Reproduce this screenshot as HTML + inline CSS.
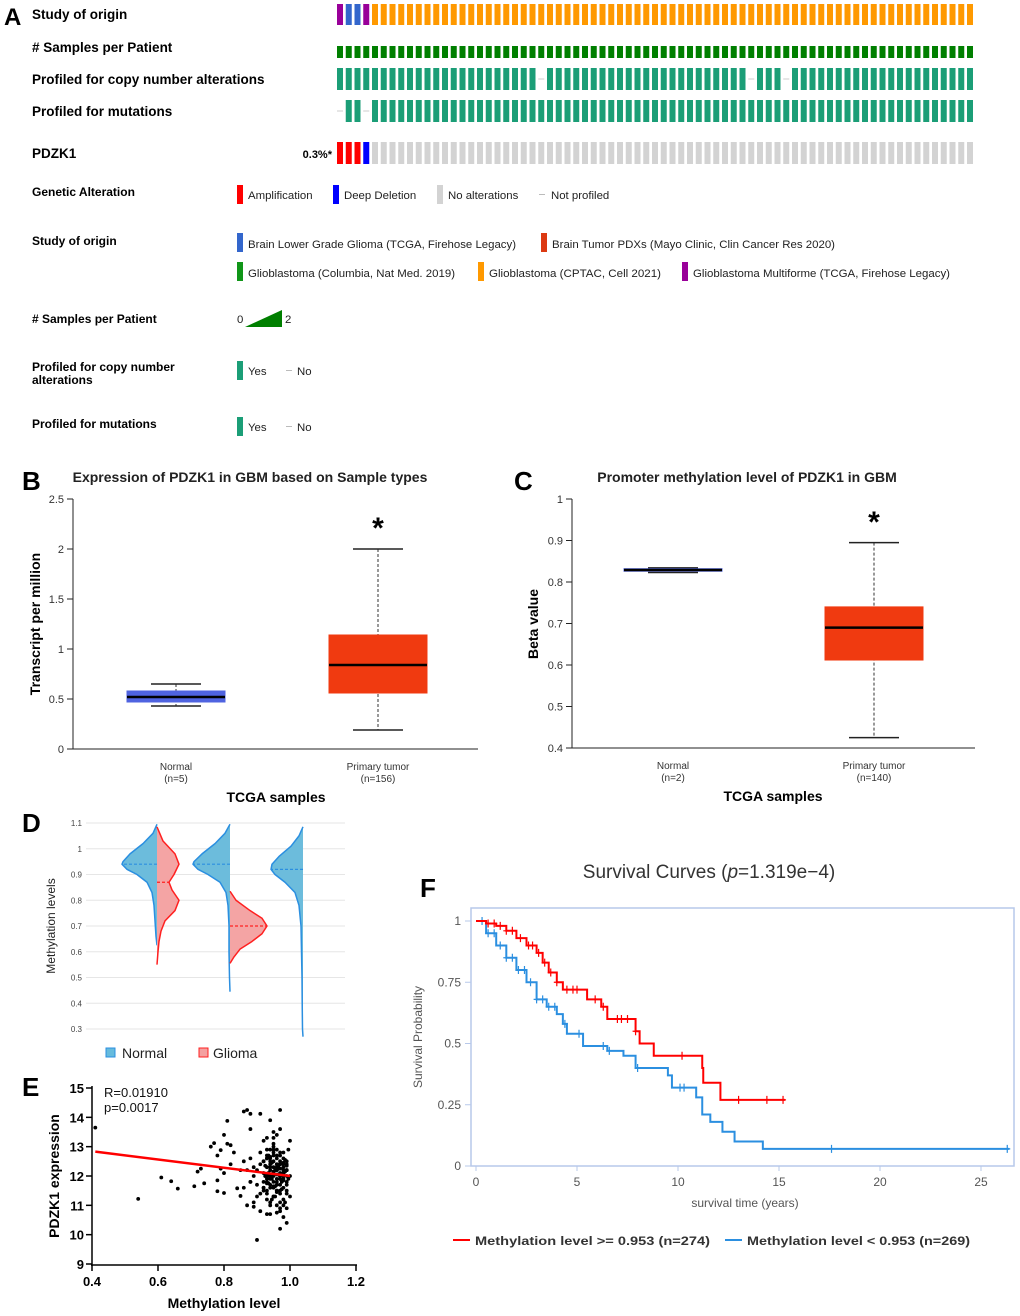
<!DOCTYPE html>
<html><head><meta charset="utf-8"><style>
html,body{margin:0;padding:0;background:#fff}
svg{display:block;font-family:"Liberation Sans",Arial,sans-serif}
</style></head><body>
<svg id="fig" width="1020" height="1316" viewBox="0 0 1020 1316" xmlns="http://www.w3.org/2000/svg">
<g font-weight="bold" font-size="13.5" fill="#000">
<text x="4" y="25" font-size="24">A</text>
<text x="32" y="19">Study of origin</text>
<text x="32" y="52"># Samples per Patient</text>
<text x="32" y="84">Profiled for copy number alterations</text>
<text x="32" y="116">Profiled for mutations</text>
<text x="32" y="158">PDZK1</text>
<text x="332" y="158" font-size="11" text-anchor="end">0.3%*</text>
</g>
<g id="oncoprint"></g>
<g font-size="11.4" fill="#222">
<g font-weight="bold" fill="#000" font-size="12">
<text x="32" y="196">Genetic Alteration</text>
<text x="32" y="245">Study of origin</text>
<text x="32" y="323"># Samples per Patient</text>
<text x="32" y="371">Profiled for copy number</text>
<text x="32" y="384">alterations</text>
<text x="32" y="428">Profiled for mutations</text>
</g>
<rect x="237" y="185" width="6" height="19" fill="#ff0000"/><text x="248" y="199">Amplification</text>
<rect x="333" y="185" width="6" height="19" fill="#0000ff"/><text x="344" y="199">Deep Deletion</text>
<rect x="437" y="185" width="6" height="19" fill="#d3d3d3"/><text x="448" y="199">No alterations</text>
<rect x="539" y="194" width="6" height="1" fill="#bbb"/><text x="551" y="199">Not profiled</text>
<rect x="237" y="233" width="6" height="19" fill="#3366cc"/><text x="248" y="248" textLength="268" lengthAdjust="spacingAndGlyphs">Brain Lower Grade Glioma (TCGA, Firehose Legacy)</text>
<rect x="541" y="233" width="6" height="19" fill="#dc3912"/><text x="552" y="248" textLength="283" lengthAdjust="spacingAndGlyphs">Brain Tumor PDXs (Mayo Clinic, Clin Cancer Res 2020)</text>
<rect x="237" y="262" width="6" height="19" fill="#109618"/><text x="248" y="277" textLength="207" lengthAdjust="spacingAndGlyphs">Glioblastoma (Columbia, Nat Med. 2019)</text>
<rect x="478" y="262" width="6" height="19" fill="#ff9900"/><text x="489" y="277" textLength="172" lengthAdjust="spacingAndGlyphs">Glioblastoma (CPTAC, Cell 2021)</text>
<rect x="682" y="262" width="6" height="19" fill="#990099"/><text x="693" y="277" textLength="257" lengthAdjust="spacingAndGlyphs">Glioblastoma Multiforme (TCGA, Firehose Legacy)</text>
<text x="237" y="323">0</text>
<polygon points="245,327 282,327 282,310" fill="#007f00"/>
<text x="285" y="323">2</text>
<rect x="237" y="361" width="6" height="19" fill="#1b9e77"/><text x="248" y="375">Yes</text>
<rect x="286" y="370" width="6" height="1" fill="#bbb"/><text x="297" y="375">No</text>
<rect x="237" y="417" width="6" height="19" fill="#1b9e77"/><text x="248" y="431">Yes</text>
<rect x="286" y="426" width="6" height="1" fill="#bbb"/><text x="297" y="431">No</text>
</g>
<g id="panelB">
<text x="22" y="490" font-size="26" font-weight="bold">B</text>
<text x="250" y="482" font-size="14" font-weight="bold" text-anchor="middle" fill="#222">Expression of PDZK1 in GBM based on Sample types</text>
<text transform="translate(40,624) rotate(-90)" font-size="14" font-weight="bold" text-anchor="middle">Transcript per million</text>
<text x="276" y="802" font-size="14" font-weight="bold" text-anchor="middle">TCGA samples</text>
</g>
<g id="panelC">
<text x="514" y="490" font-size="26" font-weight="bold">C</text>
<text x="747" y="482" font-size="14" font-weight="bold" text-anchor="middle" fill="#222">Promoter methylation level of PDZK1 in GBM</text>
<text transform="translate(538,624) rotate(-90)" font-size="14" font-weight="bold" text-anchor="middle">Beta value</text>
<text x="773" y="801" font-size="14" font-weight="bold" text-anchor="middle">TCGA samples</text>
</g>
<g id="panelD">
<text x="22" y="832" font-size="26" font-weight="bold">D</text>
<text transform="translate(55,926) rotate(-90)" font-size="12" text-anchor="middle" fill="#222">Methylation levels</text>
<rect x="106" y="1048" width="9" height="9" fill="#66bbdd" stroke="#2b8fe0"/>
<text x="122" y="1058" font-size="14" fill="#222">Normal</text>
<rect x="199" y="1048" width="9" height="9" fill="#f4a0a0" stroke="#ff2020"/>
<text x="213" y="1058" font-size="14" fill="#222">Glioma</text>
</g>
<g id="panelE">
<text x="22" y="1096" font-size="26" font-weight="bold">E</text>
<text x="104" y="1097" font-size="13" fill="#111">R=0.01910</text>
<text x="104" y="1112" font-size="13" fill="#111">p=0.0017</text>
<text transform="translate(59,1176) rotate(-90)" font-size="14" font-weight="bold" text-anchor="middle">PDZK1 expression</text>
<text x="224" y="1308" font-size="14" font-weight="bold" text-anchor="middle">Methylation level</text>
</g>
<g id="panelF">
<text x="420" y="897" font-size="26" font-weight="bold">F</text>
<text x="709" y="878" font-size="19" text-anchor="middle" fill="#333">Survival Curves (<tspan font-style="italic">p</tspan>=1.319e−4)</text>
<text transform="translate(422,1037) rotate(-90)" font-size="12" text-anchor="middle" fill="#555">Survival Probability</text>
<text x="745" y="1207" font-size="12" text-anchor="middle" fill="#555">survival time (years)</text>
<line x1="453" y1="1240" x2="470" y2="1240" stroke="#ff0000" stroke-width="2"/>
<text x="475" y="1245" font-size="12" font-weight="bold" fill="#333" textLength="235" lengthAdjust="spacingAndGlyphs">Methylation level &gt;= 0.953 (n=274)</text>
<line x1="725" y1="1240" x2="742" y2="1240" stroke="#2b8fe0" stroke-width="2"/>
<text x="747" y="1245" font-size="12" font-weight="bold" fill="#333" textLength="223" lengthAdjust="spacingAndGlyphs">Methylation level &lt; 0.953 (n=269)</text>
</g>
</svg>
<script>
const NS="http://www.w3.org/2000/svg";
function mk(tag,attrs,parent){const e=document.createElementNS(NS,tag);for(const k in attrs)e.setAttribute(k,attrs[k]);parent.appendChild(e);return e;}
const nSamples=73;
const studyCodes=["gbm","lgg","lgg","gbm"];
const cnaNotProfiled=[23,47,51];
const mutNotProfiled=[0,3];
const pdzk1Alts=["amp","amp","amp","del"];
const studyColors={gbm:"#990099",lgg:"#3366cc",cptac:"#ff9900"};
const onc=document.getElementById("oncoprint");
for(let i=0;i<nSamples;i++){
  const x=337+i*8.75;
  let r=mk("rect",{x:x,y:4,width:6,height:21,fill:studyColors[studyCodes[i]||"cptac"]},onc);
  
  
  r=mk("rect",{x:x,y:46,width:6,height:12,fill:"#007f00"},onc);
  
  
  if(cnaNotProfiled.indexOf(i)<0){r=mk("rect",{x:x,y:68,width:6,height:22,fill:"#1b9e77"},onc);}
  else{r=mk("rect",{x:x,y:78.5,width:6,height:1,fill:"#ccc"},onc);}
  
  
  if(mutNotProfiled.indexOf(i)<0){r=mk("rect",{x:x,y:100,width:6,height:22,fill:"#1b9e77"},onc);}
  else{r=mk("rect",{x:x,y:110.5,width:6,height:1,fill:"#ccc"},onc);}
  
  
  const a=pdzk1Alts[i];
  r=mk("rect",{x:x,y:142,width:6,height:22,fill:a==="amp"?"#ff0000":a==="del"?"#0000ff":"#d3d3d3"},onc);
  
  
}
const bCategories=["Normal","Primary tumor"];
const bCounts=["(n=5)","(n=156)"];
const bMin=[0.43,0.19],bQ1=[0.47,0.56],bMed=[0.52,0.84],bQ3=[0.58,1.14],bMax=[0.65,2.0];
const bTicks=[0,0.5,1,1.5,2,2.5];
const bTickLabels=["0","0.5","1","1.5","2","2.5"];
const cCategories=["Normal","Primary tumor"];
const cCounts=["(n=2)","(n=140)"];
const cMin=[0.823,0.425],cQ1=[0.826,0.612],cMed=[0.829,0.69],cQ3=[0.832,0.74],cMax=[0.834,0.895];
const cTicks=[0.4,0.5,0.6,0.7,0.8,0.9,1];
const cTickLabels=["0.4","0.5","0.6","0.7","0.8","0.9","1"];
function boxPlot(g,ax,cats,counts,mn,q1,md,q3,mx,ticks,labels,colors){
  const y=v=>ax.y0-(v-ax.vmin)/(ax.vmax-ax.vmin)*(ax.y0-ax.y1);
  let e=mk("line",{x1:ax.x0,y1:ax.y1,x2:ax.x0,y2:ax.y0,stroke:"#222"},g);
  
  e=mk("line",{x1:ax.x0,y1:ax.y0,x2:ax.x2,y2:ax.y0,stroke:"#222"},g);
  
  ticks.forEach((t,i)=>{
    e=mk("line",{x1:ax.x0-6,y1:y(t),x2:ax.x0,y2:y(t),stroke:"#222"},g);
    
    e=mk("text",{x:ax.x0-9,y:y(t)+4,"font-size":11,"text-anchor":"end",fill:"#333"},g);e.textContent=labels[i];
    
  });
  cats.forEach((c,i)=>{
    const cx=ax.cx[i],w=98,wh=50;
    e=mk("line",{x1:cx,y1:y(mx[i]),x2:cx,y2:y(mn[i]),stroke:"#333","stroke-dasharray":"3,2"},g);
    
    e=mk("line",{x1:cx-wh/2,y1:y(mx[i]),x2:cx+wh/2,y2:y(mx[i]),stroke:"#222","stroke-width":1.5},g);
    
    e=mk("line",{x1:cx-wh/2,y1:y(mn[i]),x2:cx+wh/2,y2:y(mn[i]),stroke:"#222","stroke-width":1.5},g);
    
    e=mk("rect",{x:cx-w/2,y:y(q3[i]),width:w,height:Math.max(1.5,y(q1[i])-y(q3[i])),fill:colors[i],stroke:colors[i]},g);
    
    e=mk("line",{x1:cx-w/2,y1:y(md[i]),x2:cx+w/2,y2:y(md[i]),stroke:"#000","stroke-width":2.5},g);
    
    e=mk("text",{x:cx,y:ax.y0+21,"font-size":10,"text-anchor":"middle",fill:"#333"},g);e.textContent=c;
    
    e=mk("text",{x:cx,y:ax.y0+33,"font-size":10,"text-anchor":"middle",fill:"#333"},g);e.textContent=counts[i];
    
  });
  e=mk("text",{x:ax.cx[1],y:ax.star,"font-size":30,"font-weight":"bold","text-anchor":"middle"},g);e.textContent="*";
  
}
boxPlot(document.getElementById("panelB"),{x0:73,x2:478,y0:749,y1:499,vmin:0,vmax:2.5,cx:[176,378],star:538},
  bCategories,bCounts,bMin,bQ1,bMed,bQ3,bMax,bTicks,bTickLabels,["#4f63e0","#f03a10"]);
boxPlot(document.getElementById("panelC"),{x0:572,x2:975,y0:748,y1:499,vmin:0.4,vmax:1,cx:[673,874],star:532},
  cCategories,cCounts,cMin,cQ1,cMed,cQ3,cMax,cTicks,cTickLabels,["#4f63e0","#f03a10"]);
const dTicks=[0.3,0.4,0.5,0.6,0.7,0.8,0.9,1,1.1];
const dTickLabels=["0.3","0.4","0.5","0.6","0.7","0.8","0.9","1","1.1"];
const normalLevels=[[1.095,1.06,1.02,0.98,0.95,0.94,0.92,0.9,0.87,0.83,0.78,0.72,0.66,0.625],
                    [1.095,1.06,1.02,0.98,0.95,0.94,0.92,0.9,0.87,0.83,0.78,0.7,0.6,0.5,0.445],
                    [1.085,1.05,1.01,0.97,0.94,0.92,0.9,0.87,0.83,0.78,0.7,0.6,0.5,0.4,0.3,0.27]];
const normalWidths=[[0,4,14,27,34,35,30,20,10,5,3,2,1,0],
                    [0,5,15,28,36,37,32,22,10,4,2,1,1,0.5,0],
                    [0,4,12,24,31,32,28,18,8,4,2,1.5,1,0.8,0.5,0]];
const gliomaLevels=[[1.085,1.03,0.98,0.94,0.9,0.87,0.84,0.8,0.76,0.72,0.68,0.64,0.6,0.55],
                    [0.835,0.8,0.76,0.73,0.7,0.67,0.64,0.61,0.58,0.555]];
const gliomaWidths=[[0,6,18,22,17,12,15,22,18,8,4,2,1,0],
                    [0,6,20,32,37,32,22,10,4,0]];
const normalMedians=[0.94,0.94,0.92];
const gliomaMedians=[0.87,0.70];
const violinX=[157,230,303];
(function(){
  const g=document.getElementById("panelD");
  const y=v=>1029-(v-0.3)/0.8*206;
  dTicks.forEach((t,i)=>{
    let e=mk("line",{x1:86,y1:y(t),x2:345,y2:y(t),stroke:"#e6e6e6"},g);
    
    e=mk("text",{x:82,y:y(t)+3,"font-size":8,"text-anchor":"end",fill:"#444"},g);e.textContent=dTickLabels[i];
    
  });
  function half(levels,widths,cx,dir,fill,stroke,med,name){
    let d="M"+cx+","+y(levels[0]);
    levels.forEach((l,i)=>{d+=" L"+(cx+dir*widths[i])+","+y(l);});
    d+=" L"+cx+","+y(levels[levels.length-1])+" Z";
    let e=mk("path",{d:d,fill:fill,stroke:"none"},g);
    
    let o="M"+cx+","+y(levels[0]);levels.forEach((l,i)=>{o+=" L"+(cx+dir*widths[i])+","+y(l);});
    e=mk("path",{d:o,fill:"none",stroke:stroke,"stroke-width":1.5,"stroke-linejoin":"round"},g);
    
    let w=0;for(let i=0;i<levels.length-1;i++){if(med<=levels[i]&&med>=levels[i+1]){const f=(levels[i]-med)/(levels[i]-levels[i+1]);w=widths[i]+f*(widths[i+1]-widths[i]);}}
    e=mk("line",{x1:cx,y1:y(med),x2:cx+dir*w,y2:y(med),stroke:stroke,"stroke-width":1.2,"stroke-dasharray":"3,2"},g);
    
  }
  normalLevels.forEach((lv,i)=>half(lv,normalWidths[i],violinX[i],-1,"#6cbcdc","#2b8fe0",normalMedians[i],"violin-normal"));
  gliomaLevels.forEach((lv,i)=>half(lv,gliomaWidths[i],violinX[i],1,"#f4a4a4","#ff2020",gliomaMedians[i],"violin-glioma"));
})();
const eXTicks=[0.4,0.6,0.8,1.0,1.2];
const eXTickLabels=["0.4","0.6","0.8","1.0","1.2"];
const eYTicks=[9,10,11,12,13,14,15];
const methylation=[0.41,0.54,0.61,0.64,0.66,0.71,0.72,0.73,0.74,0.76,0.77,0.78,0.78,0.78,0.79,0.79,0.8,0.8,0.8,0.81,0.81,0.82,0.82,0.83,0.84,0.85,0.85,0.86,0.86,0.87,0.87,0.88,0.88,0.88,0.88,0.89,0.89,0.89,0.9,0.9,0.91,0.91,0.91,0.92,0.92,0.92,0.93,0.93,0.94,0.94,
0.92,0.92,0.93,0.93,0.93,0.93,0.94,0.94,0.94,0.94,0.94,0.95,0.95,0.95,0.95,0.95,0.95,0.96,0.96,0.96,0.96,0.96,0.96,0.97,0.97,0.97,0.97,0.97,0.97,0.97,0.98,0.98,0.98,0.98,0.98,0.98,0.99,0.99,0.99,0.99,0.99,1.0,1.0,1.0,
0.92,0.93,0.93,0.94,0.94,0.95,0.95,0.95,0.96,0.96,0.96,0.97,0.97,0.97,0.98,0.98,0.98,0.99,0.99,0.99,0.93,0.94,0.95,0.96,0.97,0.98,0.96,0.95,0.97,0.94,
0.92,0.93,0.94,0.95,0.96,0.97,0.98,0.99,0.95,0.96,0.97,0.94,0.93,0.96,0.98,0.97,0.95,0.96,0.97,0.99,0.9,0.91,0.89,0.88,0.87,0.86,0.9,0.92,0.91,0.93,
0.925,0.935,0.945,0.955,0.965,0.975,0.985,0.995,0.925,0.935,0.945,0.955,0.965,0.975,0.985,0.995,0.93,0.94,0.95,0.96,0.97,0.98,0.99,0.93,0.94,0.95,0.96,0.97,0.98,0.99,
0.925,0.945,0.965,0.985,0.935,0.955,0.975,0.995,0.94,0.96,0.98,0.95,0.97,0.93,0.99,0.96,0.94,0.98,0.95,0.97];
const expression=[13.65,11.22,11.95,11.82,11.57,11.65,12.15,12.25,11.75,13.0,13.12,12.7,11.48,11.85,12.88,12.25,13.4,12.1,11.42,13.88,13.1,13.05,12.4,12.8,11.58,11.32,12.2,14.2,11.6,14.25,11.0,14.12,13.6,12.6,11.8,11.1,10.95,12.0,9.82,12.2,14.12,12.8,10.8,13.2,12.5,11.5,13.3,10.7,13.9,12.0,
12.1,11.8,12.3,11.9,12.6,11.4,12.2,11.7,12.9,11.1,12.4,12.0,11.6,12.5,12.8,11.3,13.1,12.2,11.9,12.6,11.0,12.9,13.4,12.0,11.5,12.4,12.7,10.8,13.6,14.25,11.9,12.3,11.2,12.6,10.6,12.1,11.7,12.4,12.0,10.9,12.5,13.2,11.3,12.0,
12.5,11.2,12.7,12.3,11.0,12.1,11.8,12.9,12.4,11.5,12.2,11.9,12.8,10.2,12.1,11.6,12.4,11.8,12.2,10.4,12.0,11.9,12.3,11.7,12.0,12.2,10.75,13.0,11.4,12.6,
11.6,12.9,12.5,11.3,12.3,12.5,11.0,11.5,13.3,11.8,12.1,10.7,12.0,12.7,12.0,11.1,13.5,12.4,11.7,12.2,11.7,11.4,12.3,11.8,12.2,12.5,11.3,11.6,12.4,11.5,
12.0,12.1,11.9,12.2,12.05,11.85,12.15,11.95,12.35,11.75,12.45,11.65,12.25,11.55,12.55,11.9,11.8,12.3,12.1,11.7,12.4,12.0,12.2,12.6,11.6,12.7,11.5,11.9,12.8,11.4,
12.0,11.2,12.3,11.1,12.7,11.3,11.8,12.9,11.95,12.05,11.85,12.15,12.25,11.75,12.35,11.45,12.65,12.45,11.65,10.9];
const fitX=[0.41,1.0];
const fitY=[12.83,12.0];
(function(){
  const g=document.getElementById("panelE");
  const x=v=>92+(v-0.4)/0.8*264, y=v=>1264-(v-9)/6*176;
  let e=mk("line",{x1:92,y1:1086,x2:92,y2:1266,stroke:"#000","stroke-width":1.5},g);
  
  e=mk("line",{x1:91,y1:1265,x2:357,y2:1265,stroke:"#000","stroke-width":1.5},g);
  
  eYTicks.forEach(t=>{
    e=mk("line",{x1:86,y1:y(t),x2:92,y2:y(t),stroke:"#000","stroke-width":1.5},g);
    
    e=mk("text",{x:84,y:y(t)+5,"font-size":13,"font-weight":"bold","text-anchor":"end"},g);e.textContent=String(t);
    
  });
  eXTicks.forEach((t,i)=>{
    e=mk("line",{x1:x(t),y1:1265,x2:x(t),y2:1271,stroke:"#000","stroke-width":1.5},g);
    
    e=mk("text",{x:x(t),y:1286,"font-size":13,"font-weight":"bold","text-anchor":"middle"},g);e.textContent=eXTickLabels[i];
    
  });
  methylation.forEach((m,i)=>{
    const p=mk("circle",{cx:x(m),cy:y(expression[i]),r:1.9,fill:"#000"},g);
    
    
  });
  e=mk("line",{x1:x(fitX[0]),y1:y(fitY[0]),x2:x(fitX[1]),y2:y(fitY[1]),stroke:"#ff0000","stroke-width":2.5},g);
  
})();
const fXTicks=[0,5,10,15,20,25];
const fYTicks=[0,0.25,0.5,0.75,1];
const fYTickLabels=["0","0.25","0.5","0.75","1"];
const highTimes=[0,0.5,1,1.5,2,2.5,3,3.3,3.6,4,4.3,5.2,5.5,6.2,6.5,7.8,7.9,8.1,8.8,11.2,11.25,12.1,15.3];
const highSurv=[1,0.99,0.98,0.96,0.93,0.9,0.87,0.83,0.79,0.75,0.72,0.72,0.68,0.65,0.6,0.6,0.55,0.5,0.45,0.4,0.34,0.27,0.27];
const highCensor=[0.6,0.9,1.2,1.5,1.8,2.2,2.6,2.8,3.1,3.4,3.7,4.0,4.5,4.8,5.0,5.9,6.3,7.0,7.2,7.5,7.9,10.2,13.0,14.4,15.2];
const lowTimes=[0,0.5,1,1.5,2,2.5,3,3.5,4,4.3,4.5,5.3,6.5,7.3,7.9,9.5,9.7,10.9,11.2,11.6,12.2,12.8,14.2,26.4];
const lowSurv=[1,0.95,0.9,0.85,0.8,0.75,0.68,0.65,0.62,0.58,0.54,0.49,0.47,0.45,0.4,0.37,0.32,0.28,0.21,0.18,0.14,0.1,0.07,0.07];
const lowCensor=[0.3,0.6,0.9,1.2,1.5,1.8,2.1,2.4,2.7,3.0,3.3,3.6,3.9,4.4,5.1,6.3,6.6,8.0,10.1,10.3,17.6,26.3];
(function(){
  const g=document.getElementById("panelF");
  const x=v=>476+v*20.2, y=v=>1166-v*245;
  let e=mk("rect",{x:471,y:908,width:543,height:258,fill:"none",stroke:"#b7c8ea","stroke-width":1.5},g);
  
  fXTicks.forEach(t=>{
    e=mk("line",{x1:x(t),y1:1166,x2:x(t),y2:1171,stroke:"#b7c8ea"},g);
    
    e=mk("text",{x:x(t),y:1186,"font-size":12,"text-anchor":"middle",fill:"#555"},g);e.textContent=String(t);
    
  });
  fYTicks.forEach((t,i)=>{
    e=mk("line",{x1:465,y1:y(t),x2:471,y2:y(t),stroke:"#b7c8ea"},g);
    
    e=mk("text",{x:461,y:y(t)+4,"font-size":12,"text-anchor":"end",fill:"#555"},g);e.textContent=fYTickLabels[i];
    
  });
  function curve(ts,ss,cs,color,name){
    let d="M"+x(ts[0])+","+y(ss[0]);
    for(let i=1;i<ts.length;i++){d+=" H"+x(ts[i])+" V"+y(ss[i]);}
    let p=mk("path",{d:d,fill:"none",stroke:color,"stroke-width":2},g);
    
    cs.forEach(c=>{
      let s=ss[0];for(let i=0;i<ts.length;i++){if(ts[i]<=c)s=ss[i];}
      const m=mk("path",{d:"M"+(x(c)-3)+","+y(s)+" h6 M"+x(c)+","+(y(s)-4)+" v8",stroke:color,"stroke-width":1.2},g);
      
    });
  }
  curve(lowTimes,lowSurv,lowCensor,"#2b8fe0","survival-curve-low");
  curve(highTimes,highSurv,highCensor,"#ff0000","survival-curve-high");
})();
</script>
</body></html>
